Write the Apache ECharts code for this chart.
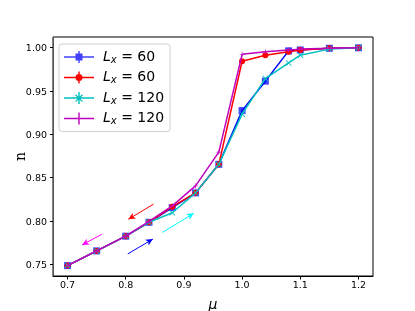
<!DOCTYPE html>
<html><head><meta charset="utf-8">
<script src="https://cdn.jsdelivr.net/npm/echarts@6/dist/echarts.min.js"></script>
<style>
html,body{margin:0;padding:0;background:#fff}
#wrap{position:relative;width:415px;height:311px}
#c{position:absolute;left:0;top:0;width:415px;height:311px}
.ylab{position:absolute;left:0;text-align:right;font-family:'DejaVu Sans',sans-serif;font-size:9.5px;line-height:12px;color:#000;white-space:nowrap}
.ytick{position:absolute;height:1px;width:3.5px;background:#000}
</style>
</head><body><div id="wrap"><div id="c"></div></div>
<script>
const mu = [0.7, 0.75, 0.8, 0.84, 0.88, 0.92, 0.96, 1.0, 1.04, 1.08, 1.1, 1.15, 1.2];
const blue60  = [0.748, 0.765, 0.782, 0.798, 0.815, 0.832, 0.865, 0.927, 0.961, 0.996, 0.997, 0.999, 0.9995];
const red60   = [0.748, 0.765, 0.782, 0.798, 0.816, 0.832, 0.865, 0.984, 0.991, 0.995, 0.997, 0.999, 0.9995];
const cyan120 = [0.748, 0.765, 0.782, 0.798, 0.809, 0.832, 0.865, 0.923, 0.964, 0.982, 0.991, 0.998, 0.9995];
const mag120  = [0.748, 0.765, 0.782, 0.799, 0.817, 0.840, 0.879, 0.992, 0.995, 0.997, 0.998, 0.999, 0.9995];
const xTicks = [0.7, 0.8, 0.9, 1.0, 1.1, 1.2];
const yTicks = [0.75, 0.80, 0.85, 0.90, 0.95, 1.00];
const legendLabels = ['60', '60', '120', '120'];
const arrowBlue = [[0.8035, 0.7615], [0.8466, 0.7786]];
const arrowRed = [[0.8478, 0.819], [0.8045, 0.8015]];
const arrowCyan = [[0.863, 0.7863], [0.917, 0.8084]];
const arrowMag = [[0.759, 0.7843], [0.725, 0.7718]];

const pts = ys => mu.map((x, i) => [x, ys[i]]);
const base = 'M0,5.3L30,5.3L30,6.7L0,6.7Z M14.3,0L15.7,0L15.7,12L14.3,12Z ';
const icons = [
  'path://' + base + 'M11.5,2.5L18.5,2.5L18.5,9.5L11.5,9.5Z',
  'path://' + base + 'M18.5,6A3.5,3.5 0 1 1 11.5,6A3.5,3.5 0 1 1 18.5,6Z',
  'path://' + base + 'M12,2.3L15,5.3L18,2.3L18.9,3.2L15.9,6.2L18.9,9.2L18,10.1L15,7.1L12,10.1L11.1,9.2L14.1,6.2L11.1,3.2Z',
  'path://' + base + 'M11,5.3L19,5.3L19,6.7L11,6.7Z'
];
const xMarker = 'path://M1,0L5,4L9,0L10,1L6,5L10,9L9,10L5,6L1,10L0,9L4,5L0,1Z';
const plusMarker = 'path://M4.4,0L5.6,0L5.6,4.4L10,4.4L10,5.6L5.6,5.6L5.6,10L4.4,10L4.4,5.6L0,5.6L0,4.4L4.4,4.4Z';

function arrow(a, color) {
  return {
    silent: true, symbol: ['none', 'arrow'], symbolSize: [5, 7],
    label: {show: false},
    lineStyle: {color: color, width: 1, type: 'solid'},
    data: [[{coord: a[0]}, {coord: a[1]}]]
  };
}

const names = ['s0', 's1', 's2', 's3'];
const chart = echarts.init(document.getElementById('c'), null, {renderer: 'canvas'});
chart.setOption({
  animation: false,
  backgroundColor: '#fff',
  grid: {left: 53, right: 42, top: 37, bottom: 35, show: true, borderColor: '#000', borderWidth: 1,
    containLabel: false, outerBoundsMode: 'none'},
  xAxis: {
    type: 'value', min: 0.675, max: 1.225,
    name: 'μ', nameLocation: 'middle', nameGap: 22,
    nameTextStyle: {fontFamily: 'DejaVu Sans', fontStyle: 'italic', fontSize: 14, color: '#000'},
    splitLine: {show: false},
    axisLine: {show: true, onZero: false, lineStyle: {color: '#000', width: 1}},
    axisTick: {show: true, length: 3.5, inside: false, customValues: xTicks, lineStyle: {color: '#000'}},
    axisLabel: {customValues: xTicks, fontFamily: 'DejaVu Sans', fontSize: 9.5, color: '#000', margin: 5,
      formatter: v => v.toFixed(1)}
  },
  yAxis: {
    type: 'value', min: 0.736, max: 1.012,
    name: 'n', nameLocation: 'middle', nameGap: 25,
    nameTextStyle: {fontFamily: 'DejaVu Serif', fontSize: 14, color: '#000'},
    splitLine: {show: false},
    axisTick: {show: false},
    axisLabel: {show: false}
  },
  legend: {
    orient: 'vertical', left: 59, top: 44,
    padding: [6, 6, 5, 5], itemGap: 5.5, itemWidth: 30, itemHeight: 12,
    borderColor: '#d0d0d0', borderWidth: 1, borderRadius: 3,
    backgroundColor: 'rgba(255,255,255,0.8)',
    data: names.map((n, i) => ({name: n, icon: icons[i]})),
    formatter: n => '{i|L}{s|x}{t| = ' + legendLabels[names.indexOf(n)] + '}',
    textStyle: {
      color: '#000', fontSize: 14, fontFamily: 'DejaVu Sans', padding: [0, 0, 0, 4],
      rich: {
        i: {fontStyle: 'italic', fontSize: 14, fontFamily: 'DejaVu Sans', color: '#000'},
        s: {fontStyle: 'italic', fontSize: 10, fontFamily: 'DejaVu Sans', color: '#000', verticalAlign: 'bottom', padding: [6, 0, 0, 0]},
        t: {fontSize: 14, fontFamily: 'DejaVu Sans', color: '#000'}
      }
    }
  },
  series: [
    {name: 's0', type: 'line', data: pts(blue60), symbol: 'rect', symbolSize: 7,
      lineStyle: {color: '#0000ff', width: 1.5}, itemStyle: {color: '#0000ff', opacity: 0.75},
      markLine: arrow(arrowBlue, '#0000ff'), z: 2},
    {name: 's1', type: 'line', data: pts(red60), symbol: 'circle', symbolSize: 6,
      lineStyle: {color: '#ff0000', width: 1.5}, itemStyle: {color: '#ff0000'},
      markLine: arrow(arrowRed, '#ff0000'), z: 3},
    {name: 's2', type: 'line', data: pts(cyan120), symbol: xMarker, symbolSize: 6,
      lineStyle: {color: '#00bfbf', width: 1.5}, itemStyle: {color: '#00bfbf'},
      markLine: arrow(arrowCyan, '#00ffff'), z: 4},
    {name: 's3', type: 'line', data: pts(mag120), symbol: plusMarker, symbolSize: 5,
      lineStyle: {color: '#bf00bf', width: 1.5}, itemStyle: {color: '#bf00bf'},
      markLine: arrow(arrowMag, '#ff00ff'), z: 5}
  ]
});

// y-axis ticks and tick labels, positioned through the chart's own y scale
const wrap = document.getElementById('wrap');
const leftX = Math.round(chart.convertToPixel({xAxisIndex: 0}, 0.675));
yTicks.forEach(v => {
  const py = Math.round(chart.convertToPixel({yAxisIndex: 0}, v));
  const t = document.createElement('div');
  t.className = 'ytick';
  t.style.left = (leftX - 3.5) + 'px';
  t.style.top = py + 'px';
  wrap.appendChild(t);
  const l = document.createElement('div');
  l.className = 'ylab';
  l.style.width = (leftX - 6) + 'px';
  l.style.top = (py - 5.5) + 'px';
  l.textContent = v.toFixed(2);
  wrap.appendChild(l);
});
</script></body></html>
